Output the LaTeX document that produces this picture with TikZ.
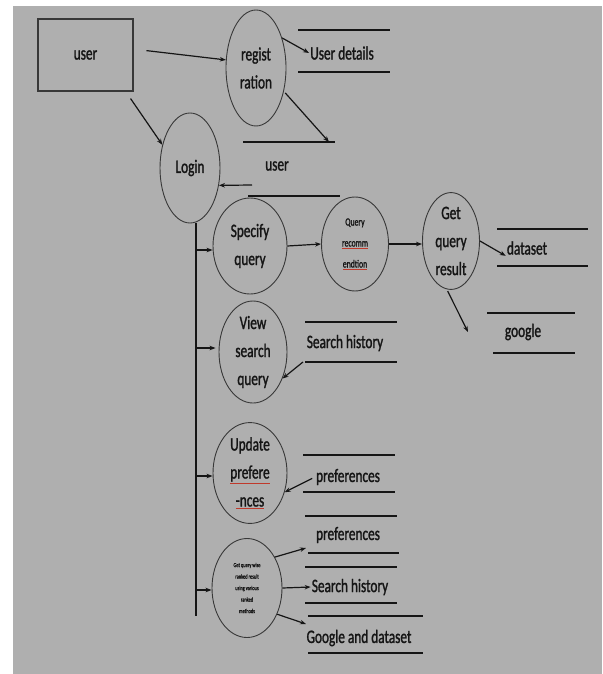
\documentclass[tikz,border=0pt]{standalone}
\usepackage{fontspec}
\setmainfont[FakeStretch=0.7,FakeBold=1.3]{Carlito}
\usetikzlibrary{shapes.geometric,arrows.meta,calc}
\definecolor{bg}{HTML}{AFAFAF}
\definecolor{ink}{HTML}{151515}
\definecolor{uline}{HTML}{C0392B}
\newcommand{\rul}[1]{{\color{uline}\underline{\color{ink}#1}}}
\begin{document}
\begin{tikzpicture}[x=1pt,y=-1pt,
  proc/.style={ellipse, draw=ink!85, line width=0.9pt, inner sep=0pt, align=center, text=ink},
  ent/.style={rectangle, draw=ink!85, line width=1.1pt, inner sep=0pt, text=ink},
  lbl/.style={inner sep=1pt, text=ink},
  big/.style={font=\fontsize{19}{28}\selectfont},
  mid/.style={font=\fontsize{11}{21}\selectfont},
  tiny/.style={font=\fontsize{6.3}{11.5}\selectfont},
  arr/.style={-{Stealth[length=6pt,width=4.5pt]}, line width=1.2pt, draw=ink},
  store/.style={line width=1.1pt, draw=ink},
]
\useasboundingbox (0,0) rectangle (602,674);
\fill[white] (0,0) rectangle (602,674);
\fill[bg] (13,6) rectangle (602,674);

% external entity and processes
\node[ent,big,minimum width=95pt,minimum height=72pt] (user) at (85.5,55) {user};
\node[proc,big,minimum width=60pt,minimum height=116pt] (reg) at (256,68) {regist\\ration};
\node[proc,big,minimum width=60pt,minimum height=110pt] (login) at (190,168) {Login};
\node[proc,big,minimum width=74pt,minimum height=96pt] (spec) at (250,246) {Specify\\query};
\node[proc,mid,minimum width=67pt,minimum height=94pt] (qrec) at (355,244) {Query\\\rul{recomm}\\\rul{endtion}};
\node[proc,big,minimum width=57pt,minimum height=94pt] (getq) at (451,241) {Get\\query\\result};
\node[proc,big,minimum width=68pt,minimum height=90pt] (view) at (253,352) {View\\search\\query};
\node[proc,big,minimum width=74pt,minimum height=94pt] (upd) at (250,473) {Update\\\rul{prefere}\\\rul{-nces}};
\node[proc,tiny,minimum width=70pt,minimum height=99pt] (getr) at (247,588) {Get query wise\\ranked result\\using various\\ranked\\methods};

% data store labels
\node[lbl,big] (ud) at (342,53) {User details};
\node[lbl,big] (us) at (277,166) {user};
\node[lbl,big] (ds) at (527,248) {dataset};
\node[lbl,big] (gg) at (523,332) {google};
\node[lbl,big] (sh1) at (345,343) {Search history};
\node[lbl,big] (pf1) at (348,477) {preferences};
\node[lbl,big] (pf2) at (348,535) {preferences};
\node[lbl,big] (sh2) at (350,587) {Search history};
\node[lbl,big] (gd) at (359,638) {Google and dataset};

% data store lines
\draw[store] (298,30) -- (390,30) (298,72) -- (390,72);
\draw[store] (243,142) -- (335,142) (248,196) -- (340,196);
\draw[store] (497,229) -- (588,229) (497,266) -- (588,266);
\draw[store] (487,313) -- (575,313) (493,353) -- (575,353);
\draw[store] (305,322) -- (397,322) (305,362) -- (397,362);
\draw[store] (303,455) -- (395,455) (303,492) -- (395,492);
\draw[store] (305,516) -- (397,516) (308,553) -- (399,553);
\draw[store] (305,567) -- (397,567) (305,603) -- (397,603);
\draw[store] (308,616) -- (423,616) (308,653) -- (423,653);

% free connector ends
\coordinate (usin) at (329,142);
\coordinate (usout) at (252,185);
\coordinate (ggin) at (468,332);
\coordinate (shout) at (303,362);
\coordinate (pf2in) at (306,548);
\coordinate (gdin) at (306,624);
\coordinate (busbot) at (196,616);

% connectors
\draw[arr, shorten <=13pt] (user.7) -- (reg.165);
\draw[arr] (reg.49) -- (ud.west);
\draw[arr, shorten <=2pt] (reg.-40) -- (usin);
\draw[arr] ($(user.south east)+(-3,7)$) -- (login.140);
\draw[arr] (usout) -- (login.-31);

\draw[line width=1.3pt, draw=ink] (login.south -| busbot) -- (busbot);
\draw[arr] ($(spec.west -| busbot)+(0,4)$) -- ($(spec.west)+(0,4)$);
\draw[arr] ($(view.west -| busbot)+(0,-4)$) -- ($(view.west)+(-3,-4)$);
\draw[arr] ($(upd.west -| busbot)+(0,3)$) -- ($(upd.west)+(0,3)$);
\draw[arr] ($(getr.west -| busbot)+(0,2)$) -- ($(getr.west)+(0,2)$);

\draw[arr] (spec.east) -- (qrec.west);
\draw[arr] (qrec.east) -- (qrec.east -| getq.west);
\draw[arr] (getq.east) -- (ds.south west);
\draw[arr, shorten <=2pt] (getq.-95) -- (ggin);
\draw[arr] (shout) -- (view.-42);
\draw[arr, shorten <=3pt] (pf1.west) -- (upd.-29);
\draw[arr] (getr.48) -- (pf2in);
\draw[arr] (getr.east) -- (sh2.west);
\draw[arr] (getr.-41) -- (gdin);
\end{tikzpicture}
\end{document}
